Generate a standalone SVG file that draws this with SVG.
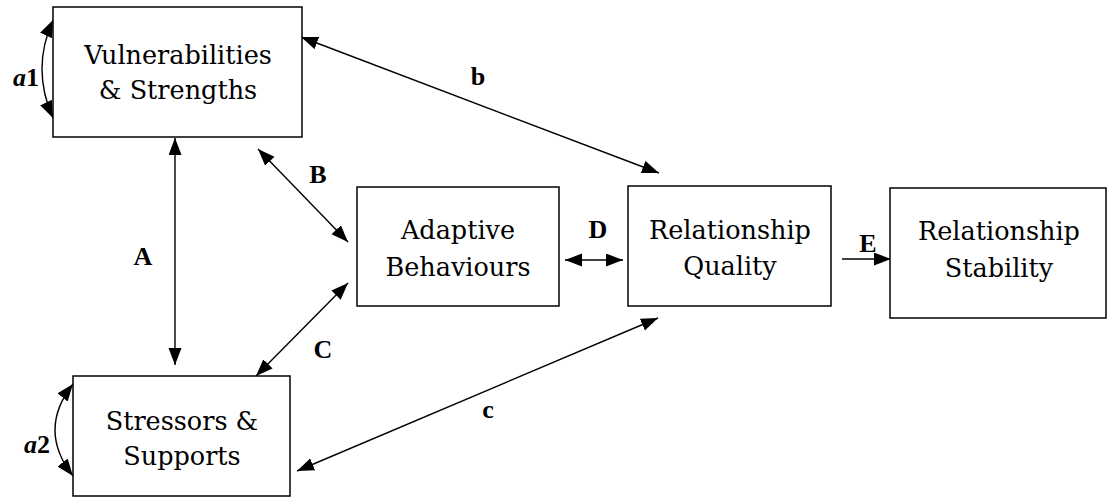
<svg xmlns="http://www.w3.org/2000/svg" width="1108" height="497" viewBox="0 0 1108 497">
<style>
.box{fill:#fff;stroke:#000;stroke-width:1.5}
.t{font-family:"DejaVu Serif",serif;font-size:25.5px;text-anchor:middle;fill:#000}
.l{font-family:"Liberation Serif",serif;font-size:26px;font-weight:bold;text-anchor:middle;fill:#000}
.c{fill:none;stroke:#000;stroke-width:1.4}
</style>
<defs>
<marker id="ah" markerUnits="userSpaceOnUse" markerWidth="18" markerHeight="14" refX="17" refY="6.5" orient="auto-start-reverse"><path d="M0,0 L17,6.5 L0,13 z" fill="#000"/></marker>
</defs>
<rect width="1108" height="497" fill="#fff"/>
<g id="connectors">
<path class="c" d="M53,20 Q31,69 53,118" marker-start="url(#ah)" marker-end="url(#ah)"/>
<path class="c" d="M73,384 Q37,430 73,476" marker-start="url(#ah)" marker-end="url(#ah)"/>
<line class="c" x1="175" y1="138" x2="175" y2="365" marker-start="url(#ah)" marker-end="url(#ah)"/>
<line class="c" x1="258" y1="149" x2="348" y2="242" marker-start="url(#ah)" marker-end="url(#ah)"/>
<line class="c" x1="348" y1="283" x2="256" y2="376" marker-start="url(#ah)" marker-end="url(#ah)"/>
<line class="c" x1="301" y1="37" x2="659" y2="173" marker-start="url(#ah)" marker-end="url(#ah)"/>
<line class="c" x1="297" y1="471" x2="658" y2="318" marker-start="url(#ah)" marker-end="url(#ah)"/>
<line class="c" x1="565" y1="260" x2="623" y2="260" marker-start="url(#ah)" marker-end="url(#ah)"/>
<line class="c" x1="842" y1="259" x2="891" y2="259" marker-end="url(#ah)"/>
<text class="l" x="478" y="85">b</text>
<text class="l" x="318" y="183">B</text>
<text class="l" x="143" y="265">A</text>
<text class="l" x="323" y="358">C</text>
<text class="l" x="598" y="238">D</text>
<text class="l" x="868" y="252">E</text>
<text class="l" x="488" y="418">c</text>
<text class="l" x="39" y="86" style="text-anchor:end"><tspan font-style="italic">a</tspan>1</text>
<text class="l" x="50" y="453" style="text-anchor:end"><tspan font-style="italic">a</tspan>2</text>
</g>
<g id="vulnerabilities">
<rect class="box" x="53" y="7" width="249" height="130"/>
<text class="t" x="178" y="64">Vulnerabilities</text>
<text class="t" x="178" y="99">&amp; Strengths</text>
</g>
<g id="stressors">
<rect class="box" x="73" y="376" width="217" height="120"/>
<text class="t" x="182" y="430">Stressors &amp;</text>
<text class="t" x="182" y="465">Supports</text>
</g>
<g id="adaptive">
<rect class="box" x="357" y="187" width="202" height="119"/>
<text class="t" x="458" y="239">Adaptive</text>
<text class="t" x="458" y="276">Behaviours</text>
</g>
<g id="quality">
<rect class="box" x="628" y="186" width="203" height="120"/>
<text class="t" x="730" y="239">Relationship</text>
<text class="t" x="730" y="275">Quality</text>
</g>
<g id="stability">
<rect class="box" x="890" y="188" width="216" height="130"/>
<text class="t" x="999" y="240">Relationship</text>
<text class="t" x="999" y="277">Stability</text>
</g>
</svg>
